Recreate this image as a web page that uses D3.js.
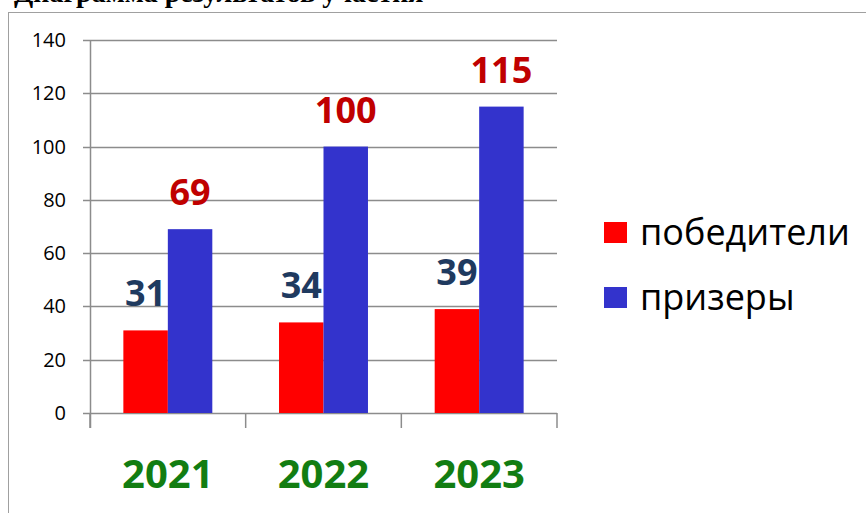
<!DOCTYPE html>
<html lang='ru'>
<head>
    <meta charset='UTF-8'>
    <title>Диаграмма</title>
    <style>
        body { margin: 0; background: #fff; }
        svg { display: block; }
    </style>
</head>
<body>
    <div id="chart"></div>
    <script src='https://d3js.org/d3.v7.min.js'></script>
    <script>
        const years = ['2021', '2022', '2023']
        const winners = [31, 34, 39]   // победители
        const prizers = [69, 100, 115] // призеры
        const seriesNames = ['победители', 'призеры']
        const yTicks = [0, 20, 40, 60, 80, 100, 120, 140]

        const width = 866, height = 513
        const colors = ['#ff0000', '#3333cc']
        const labelColors = ['#1f3a5f', '#c00000']
        const font = 'Open Sans, Noto Sans, sans-serif'

        const svg = d3.select('#chart').append('svg')
            .attr('width', width)
            .attr('height', height)

        // title, mostly cut off by the top edge
        svg.append('text')
            .attr('x', 14).attr('y', 2)
            .attr('font-family', 'Liberation Serif')
            .attr('font-weight', 'bold')
            .attr('font-size', 28)
            .text('Диаграмма результатов участия')

        // frame
        svg.append('rect')
            .attr('x', 8.5).attr('y', 12.5)
            .attr('width', 900).attr('height', 600)
            .attr('fill', '#fff')
            .attr('stroke', '#a0a0a0')

        const x0 = d3.scaleBand().domain(years).range([90, 557])
        const x1 = d3.scaleBand().domain([0, 1]).range([0, x0.bandwidth()]).paddingOuter(0.75)
        const y = d3.scaleLinear().domain([0, 140]).range([413, 40])

        // grid
        svg.append('g').selectAll('line').data(yTicks).join('line')
            .attr('x1', 83).attr('x2', 557)
            .attr('y1', d => Math.round(y(d)) + 0.5).attr('y2', d => Math.round(y(d)) + 0.5)
            .attr('stroke', '#8c8c8c').attr('stroke-width', 1.5)

        // y axis
        svg.append('line')
            .attr('x1', 90.5).attr('x2', 90.5).attr('y1', y(140)).attr('y2', 428)
            .attr('stroke', '#8c8c8c').attr('stroke-width', 1.5)

        svg.append('g').selectAll('text').data(yTicks).join('text')
            .attr('x', 66).attr('y', d => y(d) + 7)
            .attr('text-anchor', 'end')
            .attr('font-family', font)
            .attr('font-size', 20)
            .text(d => d)

        // category tick marks
        svg.append('g').selectAll('line').data(years.map(d => x0(d)).concat([x0.range()[1]])).join('line')
            .attr('x1', d => d).attr('x2', d => d).attr('y1', 413).attr('y2', 428)
            .attr('stroke', '#8c8c8c').attr('stroke-width', 1.5)

        // bars
        const data = years.map((yr, i) => ({ yr, vals: [winners[i], prizers[i]] }))
        const groups = svg.append('g').selectAll('g').data(data).join('g')
            .attr('transform', d => `translate(${x0(d.yr)},0)`)

        groups.selectAll('rect').data(d => d.vals).join('rect')
            .attr('x', (_, i) => x1(i))
            .attr('width', x1.bandwidth())
            .attr('y', d => y(d))
            .attr('height', d => y(0) - y(d))
            .attr('fill', (_, i) => colors[i])

        // value labels
        groups.selectAll('text').data(d => d.vals).join('text')
            .attr('x', (_, i) => x1(i) + x1.bandwidth() / 2)
            .attr('y', d => y(d) - 24)
            .attr('text-anchor', 'middle')
            .attr('font-family', font)
            .attr('font-weight', 'bold')
            .attr('font-size', 36)
            .attr('fill', (_, i) => labelColors[i])
            .text(d => d)

        // year labels
        svg.append('g').selectAll('text').data(years).join('text')
            .attr('x', d => x0(d) + x0.bandwidth() / 2)
            .attr('y', 488)
            .attr('text-anchor', 'middle')
            .attr('font-family', font)
            .attr('font-weight', 'bold')
            .attr('font-size', 40)
            .attr('fill', '#127d12')
            .text(d => d)

        // legend
        const legend = svg.append('g').selectAll('g').data(seriesNames).join('g')
            .attr('transform', (_, i) => `translate(604,${222 + i * 65})`)
        legend.append('rect')
            .attr('width', 23).attr('height', 21)
            .attr('fill', (_, i) => colors[i])
        legend.append('text')
            .attr('x', 36).attr('y', 23)
            .attr('font-family', font)
            .attr('font-size', 36)
            .text(d => d)
    </script>
</body>
</html>
